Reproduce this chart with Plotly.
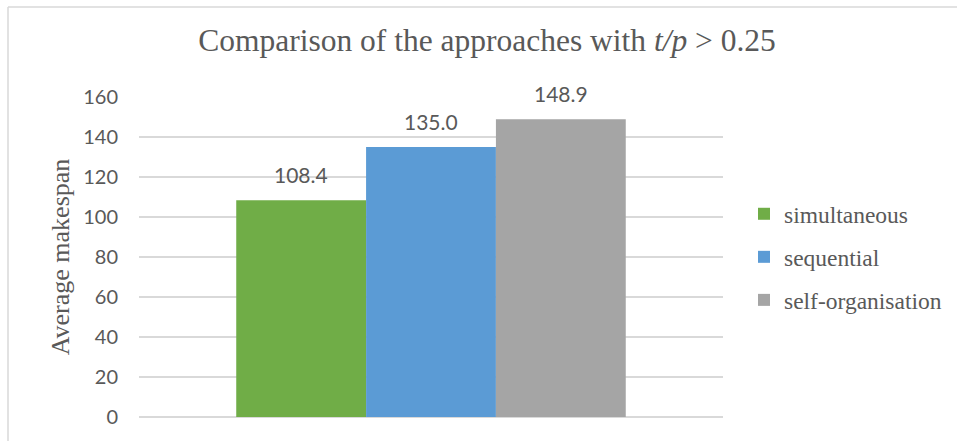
import plotly.graph_objects as go

series = ["simultaneous", "sequential", "self-organisation"]
values = [108.4, 135.0, 148.9]
colors = ["#70AD47", "#5B9BD5", "#A5A5A5"]
category = ["All"]
y_ticks = [0, 20, 40, 60, 80, 100, 120, 140, 160]
title_text = "Comparison of the approaches with <i>t/p</i> &gt; 0.25"
y_title = "Average makespan"

TXT = "#595959"
fig = go.Figure()
for i, (name, v, c) in enumerate(zip(series, values, colors)):
    fig.add_trace(go.Bar(
        x=category, y=[v], name=name, marker=dict(color=c, line=dict(width=0)),
        legendgroup=name,
    ))

offsets = [-130, 0, 130]
for v, dx in zip(values, offsets):
    fig.add_annotation(
        x=category[0], y=v, xref="x", yref="y", text=f"{v:.1f}", showarrow=False,
        xshift=dx, yshift=26, yanchor="middle",
        font=dict(family="Lato, Open Sans, sans-serif", size=21, color=TXT),
    )

L, R, T, B = 139, 234, 97, 24
W, H = 957, 441
pw, ph = W - L - R, H - T - B
# chart border (top and left lines)
fig.add_shape(type="line", xref="paper", yref="paper",
              x0=(8 - L) / pw, x1=(W + 10 - L) / pw, y0=(H - B - 7) / ph, y1=(H - B - 7) / ph,
              line=dict(color="#D9D9D9", width=1.5))
fig.add_shape(type="line", xref="paper", yref="paper",
              x0=(8 - L) / pw, x1=(8 - L) / pw, y0=(H - B - 7) / ph, y1=-(B + 10) / ph,
              line=dict(color="#D9D9D9", width=1.5))

fig.update_layout(
    width=W, height=H,
    margin=dict(l=L, r=R, t=T, b=B, autoexpand=False),
    paper_bgcolor="white", plot_bgcolor="white",
    barmode="group", bargap=0.333, bargroupgap=0,
    title=dict(text=title_text, x=487 / W, xanchor="center", xref="container",
               y=1 - 40 / H, yanchor="middle", yref="container",
               font=dict(family="Liberation Serif, Times New Roman, serif", size=31.5, color=TXT)),
    legend=dict(x=(744 - L) / pw, xanchor="left", y=(H - B - 192) / ph, yanchor="top",
                font=dict(family="Liberation Serif, Times New Roman, serif", size=23.5, color=TXT),
                traceorder="grouped", tracegroupgap=9.5, itemwidth=30, bgcolor="rgba(0,0,0,0)"),
    showlegend=True,
)
fig.update_xaxes(showticklabels=False, ticks="", showgrid=False, showline=False, zeroline=False)
fig.update_yaxes(range=[0, 160], tickvals=y_ticks, showgrid=True, gridcolor="#D9D9D9", gridwidth=1.5,
                 zeroline=True, zerolinecolor="#D9D9D9", zerolinewidth=1.5,
                 showline=False, ticks="", ticklabelstandoff=20,
                 tickfont=dict(family="Lato, Open Sans, sans-serif", size=20, color=TXT),
                 title=dict(text=y_title, standoff=6,
                            font=dict(family="Liberation Serif, Times New Roman, serif", size=26, color=TXT)),
                 automargin=False)
fig.write_html("out.html")
